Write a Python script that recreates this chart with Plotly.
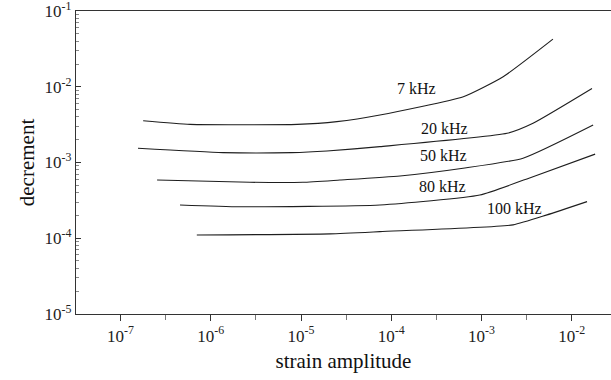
import numpy as np
import plotly.graph_objects as go

# ---- data ----
freq_labels = ["7 kHz", "20 kHz", "50 kHz", "80 kHz", "100 kHz"]

strain_7k = [1.78e-7, 5.9e-7, 9.1e-6, 2.5e-5, 7.5e-5, 6.3e-4, 1.74e-3, 6.2e-3]
dec_7k    = [3.56e-3, 3.19e-3, 3.19e-3, 3.47e-3, 4.24e-3, 7.4e-3, 1.36e-2, 4.27e-2]

strain_20k = [1.56e-7, 1.36e-6, 7.9e-6, 1.94e-5, 7.5e-5, 1.92e-3, 3.73e-3, 1.68e-2]
dec_20k    = [1.54e-3, 1.35e-3, 1.35e-3, 1.42e-3, 1.62e-3, 2.43e-3, 3.30e-3, 9.5e-3]

strain_50k = [2.54e-7, 2.72e-6, 1.05e-5, 2.7e-5, 1.25e-4, 6.25e-4, 2.89e-3, 1.73e-2]
dec_50k    = [5.87e-4, 5.48e-4, 5.48e-4, 5.87e-4, 6.64e-4, 8.4e-4, 1.14e-3, 3.13e-3]

strain_80k = [4.56e-7, 2.11e-6, 7.5e-5, 9.6e-4, 3.73e-3, 1.82e-2]
dec_80k    = [2.75e-4, 2.6e-4, 2.75e-4, 3.72e-4, 6.5e-4, 1.29e-3]

strain_100k = [7.0e-7, 2.1e-5, 7.5e-5, 2.24e-3, 5.33e-3, 1.48e-2]
dec_100k    = [1.10e-4, 1.14e-4, 1.22e-4, 1.50e-4, 2.03e-4, 3.04e-4]

# label anchor positions (strain, decrement)
label_strain = [1.93e-4, 3.94e-4, 3.75e-4, 3.66e-4, 2.30e-3]
label_dec    = [9.6e-3, 2.85e-3, 1.23e-3, 4.8e-4, 2.43e-4]

x_tick_vals = [1e-7, 1e-6, 1e-5, 1e-4, 1e-3, 1e-2]
x_tick_text = ["10<sup>-7</sup>", "10<sup>-6</sup>", "10<sup>-5</sup>",
               "10<sup>-4</sup>", "10<sup>-3</sup>", "10<sup>-2</sup>"]
y_tick_vals = [1e-5, 1e-4, 1e-3, 1e-2, 1e-1]
y_tick_text = ["10<sup>-5</sup>", "10<sup>-4</sup>", "10<sup>-3</sup>",
               "10<sup>-2</sup>", "10<sup>-1</sup>"]

series = [(strain_7k, dec_7k), (strain_20k, dec_20k), (strain_50k, dec_50k),
          (strain_80k, dec_80k), (strain_100k, dec_100k)]

FONT = "Liberation Serif"
LINE = "#1e1e1e"

fig = go.Figure()
for (sx, sy), name in zip(series, freq_labels):
    fig.add_trace(go.Scatter(x=sx, y=sy, mode="lines", name=name,
                             line=dict(color=LINE, width=1.1, shape="spline", smoothing=0.5),
                             showlegend=False))

for txt, lx, ly in zip(freq_labels, label_strain, label_dec):
    fig.add_annotation(x=np.log10(lx), y=np.log10(ly), text=txt, showarrow=False,
                       font=dict(family=FONT, size=16, color="#111"))

x_minor = [10 ** (k + 0.5) for k in range(-8, -1)]
y_minor = [m * 10.0 ** k for k in range(-5, -1) for m in range(2, 10)]

fig.update_xaxes(type="log", range=[-7.494, -1.564],
                 tickvals=x_tick_vals, ticktext=x_tick_text,
                 ticks="outside", ticklen=6, tickcolor="#333", tickwidth=1,
                 minor=dict(tickvals=x_minor, ticks="outside", ticklen=5, tickcolor="#777"),
                 showline=True, linecolor="#333", linewidth=1.2, mirror=True,
                 showgrid=False, zeroline=False,
                 tickfont=dict(family=FONT, size=17, color="#222"),
                 title=dict(text="strain amplitude", font=dict(family=FONT, size=21, color="#111"),
                            standoff=8))
fig.update_yaxes(type="log", range=[-5.002, -0.998],
                 tickvals=y_tick_vals, ticktext=y_tick_text,
                 ticks="inside", ticklen=5, tickcolor="#333", tickwidth=1,
                 minor=dict(tickvals=y_minor, ticks="inside", ticklen=3, tickcolor="#888"),
                 showline=True, linecolor="#333", linewidth=1.2, mirror=False,
                 showgrid=False, zeroline=False, ticklabeloverflow="allow",
                 tickfont=dict(family=FONT, size=17, color="#222"),
                 title=dict(text="decrement", font=dict(family=FONT, size=21, color="#111"),
                            standoff=4))

fig.update_layout(width=611, height=380,
                  margin=dict(l=76, r=0, t=11, b=66),
                  paper_bgcolor="white", plot_bgcolor="white")

fig.write_html("out.html")
